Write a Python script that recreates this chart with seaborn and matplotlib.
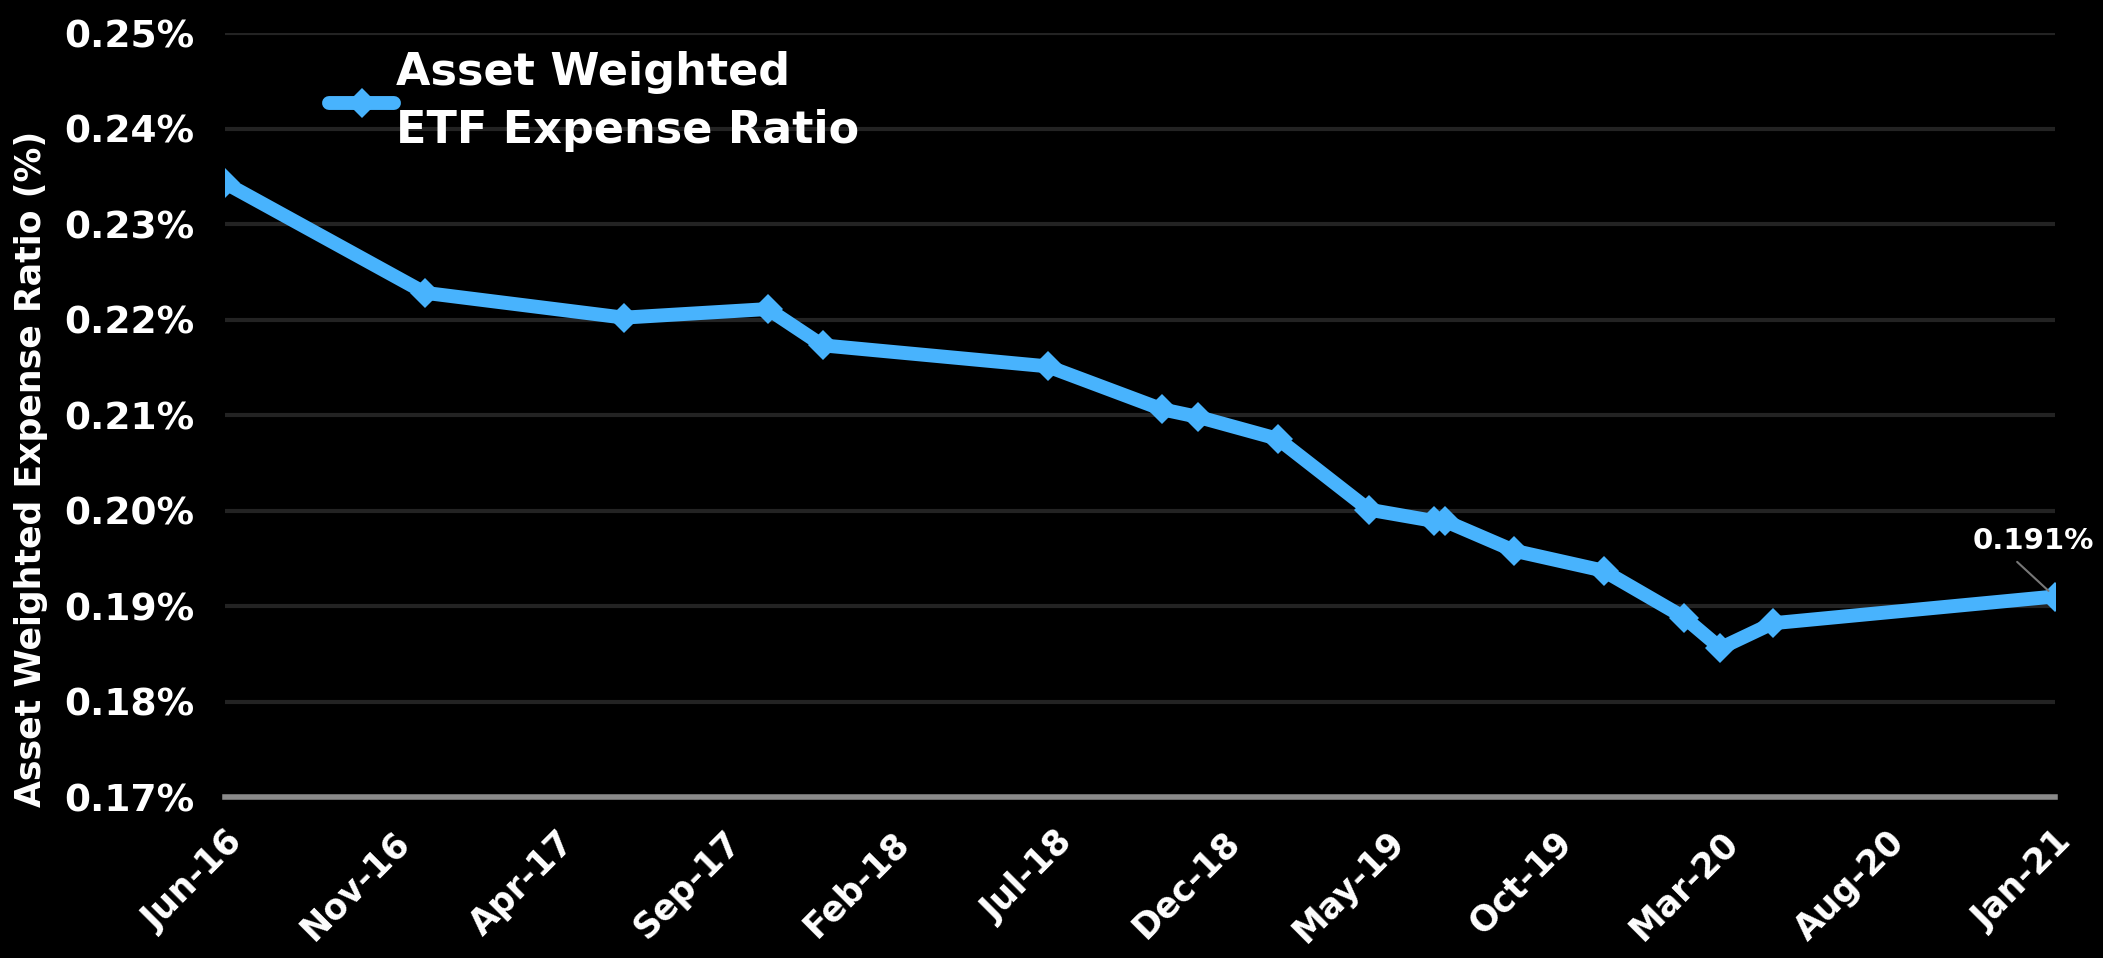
import matplotlib
matplotlib.use("Agg")
import matplotlib.pyplot as plt
import matplotlib.dates as mdates
import matplotlib.ticker as mticker
import numpy as np
import pandas as pd
import seaborn as sns

# values (percent)
dates = ["2016-06-01", "2016-12-01", "2017-06-01", "2017-10-11", "2017-11-30",
         "2018-06-24", "2018-10-07", "2018-11-09", "2019-01-21", "2019-04-14",
         "2019-06-13", "2019-06-23", "2019-08-25", "2019-11-15", "2020-01-28",
         "2020-03-01", "2020-04-18", "2021-01-01"]
ratio = [0.2343, 0.2228, 0.2202, 0.2211, 0.2173,
         0.2151, 0.2106, 0.2098, 0.2075, 0.2001,
         0.1989, 0.1989, 0.1958, 0.1937, 0.1888,
         0.1856, 0.1882, 0.191]
series_label = "Asset Weighted\nETF Expense Ratio"
y_label = "Asset Weighted Expense Ratio (%)"
last_label = "0.191%"
y_ticks = [0.17, 0.18, 0.19, 0.20, 0.21, 0.22, 0.23, 0.24, 0.25]
x_ticks = pd.date_range("2016-06-01", "2021-01-01", freq="5MS")

df = pd.DataFrame({"date": pd.to_datetime(dates), "ratio": ratio})

sns.set_style("dark")
plt.rcParams["font.family"] = ["DejaVu Sans"]
plt.rcParams["font.weight"] = "bold"

line_color = "#48b3fd"
grid_color = "#232323"
axis_color = "#8a8a8a"

fig = plt.figure(figsize=(21.03, 9.58), dpi=100, facecolor="black")
ax = fig.add_axes([0.107, 0.168, 0.870, 0.7975])
ax.set_facecolor("black")

sns.lineplot(data=df, x="date", y="ratio", ax=ax, color=line_color,
             linewidth=10, marker="D", markersize=15, markeredgewidth=0,
             label=series_label, solid_joinstyle="round", solid_capstyle="round")

ax.set_ylim(0.17, 0.25)
ax.set_xlim(x_ticks[0], x_ticks[-1])
ax.set_yticks(y_ticks)
ax.yaxis.set_major_formatter(mticker.FuncFormatter(lambda v, p: f"{v:.2f}%"))
ax.set_xticks(x_ticks)
ax.xaxis.set_major_formatter(mdates.DateFormatter("%b-%y"))

ax.grid(axis="y", color=grid_color, linewidth=3)
ax.grid(axis="x", visible=False)
for s in ["top", "right", "left"]:
    ax.spines[s].set_visible(False)
ax.spines["bottom"].set_color(axis_color)
ax.spines["bottom"].set_linewidth(4)

ax.tick_params(axis="y", length=0, labelsize=27, labelcolor="white", pad=22)
ax.tick_params(axis="x", length=10, width=2, color=axis_color, labelsize=25,
               labelcolor="white", pad=10)
for lbl in ax.get_xticklabels():
    lbl.set_rotation(45)
    lbl.set_ha("right")
    lbl.set_rotation_mode("anchor")
    lbl.set_fontweight("bold")
for lbl in ax.get_yticklabels():
    lbl.set_fontweight("bold")

ax.set_xlabel("")
ax.set_ylabel(y_label, color="white", fontsize=25, fontweight="bold")
ax.yaxis.set_label_coords(-0.097, 0.43)

leg = ax.legend(loc="upper left", bbox_to_anchor=(0.057, 0.977), frameon=False,
                fontsize=32, handlelength=1.45, handletextpad=0.05,
                borderaxespad=0, borderpad=0)
for t in leg.get_texts():
    t.set_color("white")
    t.set_fontweight("bold")
    t.set_linespacing(1.45)

ax.annotate(last_label, xy=(df["date"].iloc[-1], df["ratio"].iloc[-1]),
            xytext=(-15, 30), textcoords="offset points", color="white",
            fontsize=21, fontweight="bold", ha="center", va="bottom",
            arrowprops=dict(arrowstyle="-", color="#777777", lw=1.5,
                            relpos=(0.3, 0), shrinkA=4, shrinkB=6))

fig.savefig("out.png", dpi=100, facecolor="black")
